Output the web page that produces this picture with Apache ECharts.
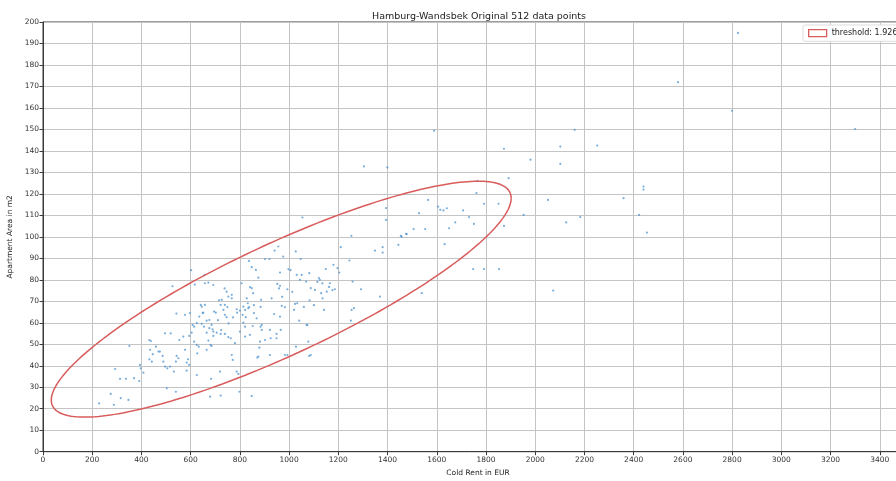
<!DOCTYPE html>
<html>
<head>
<meta charset="utf-8">
<script src="https://cdn.jsdelivr.net/npm/echarts@6/dist/echarts.min.js"></script>
<style>
  html, body { margin: 0; padding: 0; background: #ffffff; }
  #chart { width: 896px; height: 481px; }
</style>
</head>
<body>
<div id="chart"></div>
<script>
// Listings: cold rent (EUR) and apartment area (m2), one entry per listing.
const coldRent = [
  228, 275, 288, 316, 347, 293, 313, 337, 370, 351, 391, 394, 397, 408, 432, 438, 435, 446, 432, 442,
  459, 469, 475, 486, 489, 496, 496, 519, 503, 505, 516, 532, 540, 543, 550, 540, 554, 570, 577, 584,
  589, 594, 584, 577, 597, 608, 614, 625, 635, 594, 604, 614, 625, 633, 627, 625, 651, 658, 645, 654,
  665, 676, 685, 672, 692, 706, 722, 665, 681, 683, 679, 719, 722, 702, 733, 739, 767, 771, 787, 794,
  798, 800, 821, 814, 780, 848, 882, 902, 922, 875, 922, 814, 834, 857, 868, 889, 939, 963,
  542, 711, 724, 754, 772, 857, 884,
  949, 949, 925, 879, 884, 889, 852, 821, 800, 787, 789, 811, 824, 739, 753, 763, 689, 692, 645, 665,
  676, 649, 641, 685, 871, 841, 821, 695, 746, 722, 739, 749, 832, 838,
  970, 983, 966, 983, 993, 1024, 1033, 1020, 1041, 1071, 1078, 1028, 1082, 1142, 1254, 1264, 1251, 1060, 1074, 1088,
  1101,
  902, 920, 837, 848, 865, 875, 807, 841, 854, 952, 929, 886, 848, 767, 767, 746, 753, 726, 658, 672,
  692, 941, 956, 526, 602, 617, 656, 715, 738, 959, 828,
  976, 1027, 1047, 963, 997, 1031, 1051, 1082, 1121, 1149, 1180, 1197, 1204, 1245, 1210, 1349, 1380, 1380, 1444, 1457,
  1475, 963, 993, 1044, 1069, 1125, 1088, 1105, 1130, 1153, 1166, 1186, 1258, 1292, 1136, 1369, 1539, 972, 1013, 1083,
  1115, 1135, 1162, 1176, 1006,
  1054, 1304, 1399, 1394, 1394, 1454, 1478, 1506, 1528, 1553, 1565, 1589, 1605, 1614, 1627, 1641, 1253,
  2824, 2580, 2800, 3300, 2160, 1873, 2102, 2252, 1981, 2102, 1892, 1765, 1761, 2052, 2440, 2440, 2359, 1792, 1851, 1707,
  1731, 1675, 1751, 1873, 1650, 1953, 2126, 2183, 2422, 2454, 1632, 1748, 1792, 1853, 2073
];
const areaM2 = [
  22.5, 26.9, 21.8, 24.9, 24.1, 38.5, 33.9, 33.9, 34.2, 49.2, 32.9, 40.4, 38.8, 36.8, 52, 51.5, 47.4, 45.4, 43, 41.9,
  48.9, 46.6, 46.6, 44.6, 41.9, 39.6, 55.1, 55.1, 29.5, 38.8, 39.6, 37.3, 27.9, 44.6, 43.5, 41.9, 52, 53.6, 47.4, 41.5,
  43, 40.4, 37.7, 63.7, 64.5, 59, 58.2, 59.8, 62.9, 53.9, 55.4, 51.2, 49.7, 48.9, 45.8, 35.7, 64.7, 68.3, 67.5, 58.2,
  55.4, 57.5, 59, 51.7, 53.9, 55.4, 54.8, 47.4, 49.7, 33.9, 25.6, 37.3, 26.1, 64.7, 66, 63.7, 45, 42.7, 37.3, 36.2,
  27.9, 55.9, 58.2, 60.1, 50.5, 25.9, 51.2, 52, 56.7, 44.3, 45, 67.5, 66.8, 64.5, 62.1, 59, 64.1, 62.9,
  64.3, 61.2, 56.6, 59.7, 62.5, 68.2, 67.4,
  54.8, 52.8, 52.8, 48.4, 58.2, 56.7, 58.5, 66, 65.7, 66.3, 64.7, 63.7, 62.6, 54.8, 53.3, 52.8, 57, 55.9, 59.5, 61,
  61.3, 64.5, 68.3, 49.2, 43.8, 54.4, 53.6, 65.2, 62.6, 68.3, 68.3, 67.3, 69.1, 67.3,
  67.9, 67.3, 56.7, 45, 45, 68.8, 69.1, 66, 61, 59, 51.2, 48.9, 44.6, 66, 66, 66.8, 61, 67.4, 58.9, 45,
  68.2,
  89.7, 89.7, 88.8, 85.9, 84.6, 81, 78.4, 76.6, 73.8, 78.1, 71.4, 70.7, 76.1, 73, 71.4, 74.5, 72.2, 70.7, 78.4, 78.7,
  77.6, 93.6, 95.5, 77, 84.5, 77.8, 82.2, 70.5, 76, 76, 71.4,
  90.8, 93.2, 89.7, 83.4, 85, 82.3, 82.3, 83.1, 80.8, 85, 87, 85.4, 83.4, 89, 95.2, 93.6, 95.2, 92.7, 96.3, 100.1,
  101.4, 77.2, 75.6, 80, 79.2, 80, 76.1, 75.3, 73.8, 74.5, 78.4, 75.6, 79.2, 75.6, 71.4, 72.2, 73.8, 72.1, 74.4, 70.5,
  79, 78.3, 76.7, 75.2, 84.5,
  109, 132.8, 132.3, 113.4, 107.9, 100.5, 101.3, 103.6, 111, 103.6, 117.2, 149.4, 114.1, 112.6, 112.3, 113.3, 100.5,
  194.9, 172, 158.7, 150.2, 149.8, 141, 142, 142.5, 135.9, 134, 127.3, 126.1, 120.4, 117.2, 123.4, 122, 118, 115.4, 115.4, 112.3,
  109.2, 106.7, 106, 105.1, 104, 110.2, 106.7, 109.2, 110.2, 102, 96.6, 85, 85, 85, 75
];

// Outlier threshold ellipse (Mahalanobis distance 1.926) in data units:
// centre, half-extents along each axis and the rent/area correlation.
const thresholdLabel = 'threshold: 1.926';
const ellipseCenter = [968, 71];
const ellipseHalfExtent = [934.5, 54.9];
const ellipseCorrelation = 0.856;

const xTicks = { min: 0, max: 3535, interval: 200 };
const yTicks = { min: 0, max: 200, interval: 10 };

const points = coldRent.map((r, i) => [r, areaM2[i]]);

// Outline of the ellipse, traced in data coordinates.
const ellipseOutline = [];
const steps = 240;
const k = Math.sqrt(1 - ellipseCorrelation * ellipseCorrelation);
for (let i = 0; i <= steps; i++) {
  const t = (i / steps) * Math.PI * 2;
  const c = Math.cos(t), s = Math.sin(t);
  ellipseOutline.push([
    ellipseCenter[0] + ellipseHalfExtent[0] * c,
    ellipseCenter[1] + ellipseHalfExtent[1] * (ellipseCorrelation * c + k * s)
  ]);
}

const FONT = 'DejaVu Sans';
const plainNumber = v => String(Math.round(v));
const chart = echarts.init(document.getElementById('chart'), null, { renderer: 'canvas' });

chart.setOption({
  animation: false,
  backgroundColor: '#ffffff',
  title: {
    text: 'Hamburg-Wandsbek Original 512 data points',
    left: 474, top: 7, textAlign: 'center',
    textStyle: { fontFamily: FONT, fontSize: 9.5, fontWeight: 'normal', color: '#222' }
  },
  legend: {
    left: 803, top: 25,
    padding: [4, 5, 4, 5],
    backgroundColor: '#ffffff',
    borderColor: '#dddddd', borderWidth: 1, borderRadius: 2,
    itemWidth: 18, itemHeight: 7, itemGap: 6,
    textStyle: { fontFamily: FONT, fontSize: 8, color: '#222' },
    data: [{
      name: thresholdLabel,
      icon: 'rect',
      itemStyle: { color: '#ffffff', borderColor: '#d95c5c', borderWidth: 1.3 }
    }]
  },
  grid: {
    left: 43, top: 22, width: 870, height: 429.7,
    containLabel: false,
    outerBoundsMode: 'none',
    show: true, borderColor: '#3a3a3a', borderWidth: 1, backgroundColor: 'transparent'
  },
  xAxis: {
    type: 'value',
    min: xTicks.min, max: xTicks.max, interval: xTicks.interval,
    name: 'Cold Rent in EUR', nameLocation: 'middle', nameGap: 16,
    nameTextStyle: { fontFamily: FONT, fontSize: 7.5, color: '#222' },
    axisLine: { show: true, onZero: false, lineStyle: { color: '#3a3a3a', width: 1 } },
    axisTick: { show: true, length: 3.5, lineStyle: { color: '#3a3a3a' } },
    axisLabel: { fontFamily: FONT, fontSize: 7.5, color: '#333', margin: 4, showMaxLabel: false, formatter: plainNumber },
    splitLine: { show: true, lineStyle: { color: '#c4c4c4', width: 1 } }
  },
  yAxis: {
    type: 'value',
    min: yTicks.min, max: yTicks.max, interval: yTicks.interval,
    name: 'Apartment Area in m2', nameLocation: 'middle', nameGap: 22, nameRotate: 90,
    nameTextStyle: { fontFamily: FONT, fontSize: 7.5, color: '#222' },
    axisLine: { show: true, onZero: false, lineStyle: { color: '#3a3a3a', width: 1 } },
    axisTick: { show: true, length: 3.5, lineStyle: { color: '#3a3a3a' } },
    axisLabel: { fontFamily: FONT, fontSize: 7.5, color: '#333', margin: 4, formatter: plainNumber },
    splitLine: { show: true, lineStyle: { color: '#c4c4c4', width: 1 } }
  },
  series: [
    {
      name: 'listings',
      type: 'scatter',
      data: points,
      symbol: 'circle',
      symbolSize: 2.2,
      itemStyle: { color: '#4f93cf', opacity: 0.75 },
      z: 3
    },
    {
      name: thresholdLabel,
      type: 'line',
      data: ellipseOutline,
      showSymbol: false,
      symbol: 'none',
      smooth: false,
      lineStyle: { color: '#d95c5c', width: 1.5 },
      itemStyle: { color: '#d95c5c' },
      z: 4
    }
  ]
});
</script>
</body>
</html>
